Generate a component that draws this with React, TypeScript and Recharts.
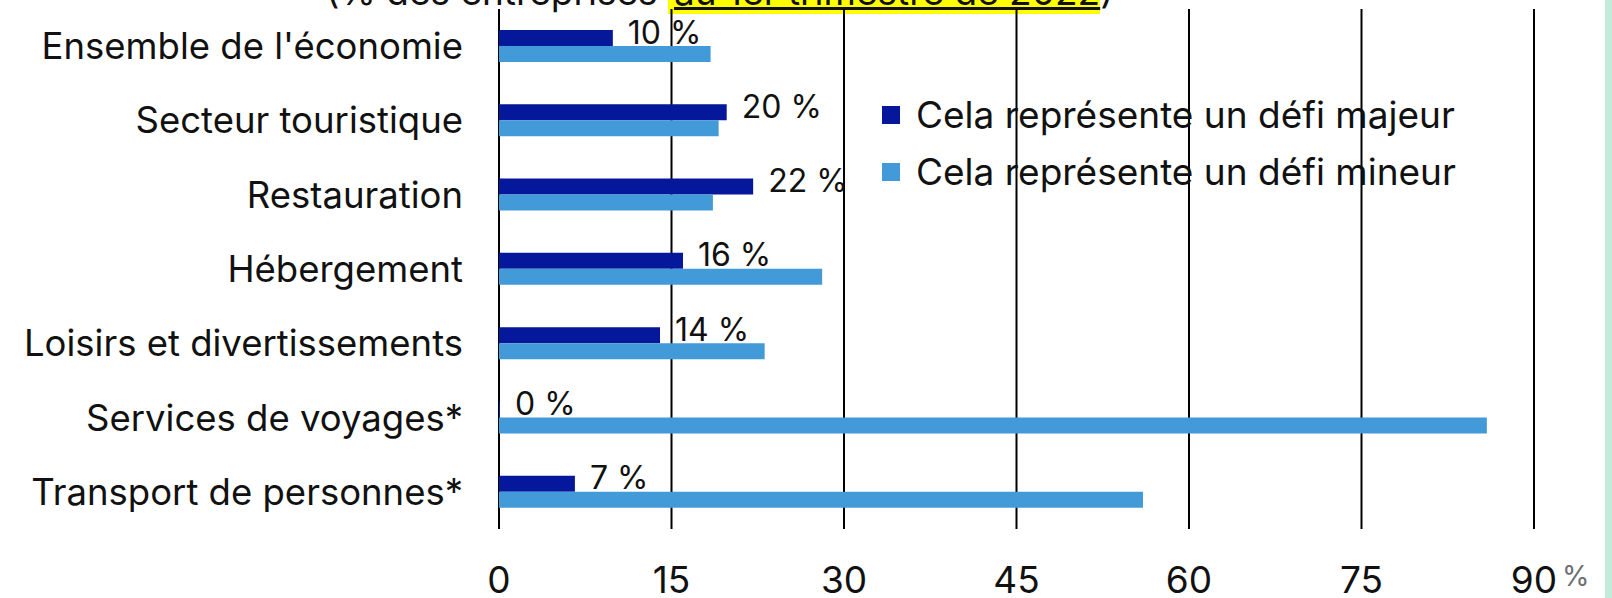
import React from 'react';
import { BarChart, Bar, XAxis, YAxis, CartesianGrid, Legend, LabelList } from 'recharts';

const categories = [
  "Ensemble de l'économie",
  'Secteur touristique',
  'Restauration',
  'Hébergement',
  'Loisirs et divertissements',
  'Services de voyages*',
  'Transport de personnes*',
];
const majeur = [9.9, 19.8, 22.1, 16, 14, 0, 6.6];
const mineur = [18.4, 19.1, 18.6, 28.1, 23.1, 85.9, 56.0];
const xTicks = [0, 15, 30, 45, 60, 75, 90];
const seriesNames = ['Cela représente un défi majeur', 'Cela représente un défi mineur'];

const data = categories.map((name, i) => ({ name, majeur: majeur[i], mineur: mineur[i] }));

const FONT = 'Inter, "Noto Sans", sans-serif';
const DARK = '#05179a';
const LIGHT = '#429ad8';

const YTick = (props: any) => {
  const { x, y, payload } = props;
  return (
    <text x={x} y={y} textAnchor="end" dominantBaseline="central" fontSize={36.5} fontFamily={FONT} fill="#111">
      {payload.value}
    </text>
  );
};

const XTick = (props: any) => {
  const { x, y, payload } = props;
  return (
    <g>
      <text x={x} y={y} dy={42} textAnchor="middle" dominantBaseline="central" fontSize={37} fontFamily={FONT} fill="#111">
        {payload.value}
      </text>
      {payload.value === 90 && (
        <text x={x + 28} y={y} dy={39} textAnchor="start" dominantBaseline="central" fontSize={28} fontFamily={FONT} fill="#6b6f73">
          %
        </text>
      )}
    </g>
  );
};

const ValueLabel = (props: any) => {
  const { x, y, width, height, value } = props;
  return (
    <text x={x + width + 15} y={y + height / 2 - 6} dominantBaseline="central" fontSize={32} fontFamily={FONT} fill="#111">
      {`${Math.round(value)} %`}
    </text>
  );
};

const LegendContent = () => (
  <div style={{ fontFamily: FONT, fontSize: 37, color: '#111' }}>
    {[DARK, LIGHT].map((c, i) => (
      <div key={i} style={{ display: 'flex', alignItems: 'center', height: 57, whiteSpace: 'nowrap' }}>
        <span style={{ display: 'inline-block', width: 18, height: 18, background: c, marginRight: 16 }} />
        <span>{seriesNames[i]}</span>
      </div>
    ))}
  </div>
);

export default function App() {
  return (
    <div style={{ position: 'relative', width: 1612, height: 598, overflow: 'hidden', background: '#fff' }}>
      <style>{'body{margin:0}'}</style>
      <div
        style={{
          position: 'absolute',
          top: -27,
          left: 326,
          fontFamily: FONT,
          fontSize: 37,
          lineHeight: '37px',
          whiteSpace: 'nowrap',
          color: '#111',
        }}
      >
        {'(% des entreprises '}
        <span style={{ background: '#ffff00', textDecoration: 'underline', paddingLeft: 6 }}>au 1er trimestre de 2022</span>
        {')'}
      </div>
      <BarChart
        width={1612}
        height={598}
        data={data}
        layout="vertical"
        margin={{ top: 9, right: 78, bottom: 0, left: 0 }}
        barSize={16}
        barGap={0}
      >
        <CartesianGrid horizontal={false} stroke="#000" strokeWidth={2} />
        <XAxis
          type="number"
          domain={[0, 90]}
          ticks={xTicks}
          axisLine={false}
          tickLine={false}
          height={69}
          tick={<XTick />}
        />
        <YAxis
          type="category"
          dataKey="name"
          width={499}
          axisLine={false}
          tickLine={false}
          tickMargin={30}
          tick={<YTick />}
        />
        <Legend
          layout="horizontal"
          verticalAlign="middle"
          align="center"
          wrapperStyle={{ position: 'absolute', top: 86, left: 882, width: 640 }}
          content={<LegendContent />}
        />
        <Bar dataKey="majeur" name={seriesNames[0]} fill={DARK} minPointSize={1} isAnimationActive={false}>
          <LabelList dataKey="majeur" content={<ValueLabel />} />
        </Bar>
        <Bar dataKey="mineur" name={seriesNames[1]} fill={LIGHT} isAnimationActive={false} />
      </BarChart>
      <div style={{ position: 'absolute', top: 0, right: 0, width: 7, height: 598, background: '#c2ecd9' }} />
    </div>
  );
}
